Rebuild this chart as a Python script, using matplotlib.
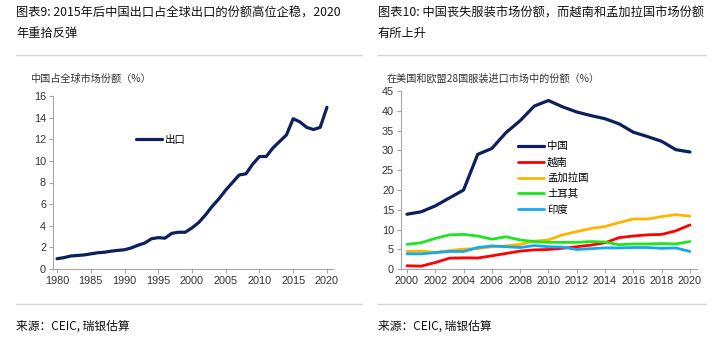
import matplotlib
matplotlib.use("Agg")
import matplotlib.pyplot as plt
from matplotlib.lines import Line2D

plt.rcParams['font.family'] = ['Noto Sans CJK SC', 'DejaVu Sans']

# share of world exports, %
years_exp = list(range(1980, 2021))
export_share = [0.95, 1.05, 1.2, 1.25, 1.3, 1.4, 1.5, 1.55, 1.65, 1.72,
                1.78, 1.95, 2.2, 2.4, 2.8, 2.9, 2.85, 3.3, 3.4, 3.4,
                3.8, 4.3, 5.0, 5.8, 6.5, 7.3, 8.0, 8.7, 8.8, 9.7,
                10.4, 10.4, 11.2, 11.8, 12.4, 13.9, 13.6, 13.1, 12.9, 13.1,
                14.95]

# share of US + EU28 apparel imports, %
years_app = list(range(2000, 2021))
china = [13.9, 14.5, 16.0, 18.0, 20.0, 29.0, 30.5, 34.5, 37.5, 41.2,
         42.6, 41.0, 39.7, 38.8, 38.0, 36.7, 34.6, 33.5, 32.3, 30.2, 29.6]
vietnam = [0.9, 0.8, 1.7, 2.8, 2.9, 2.85, 3.4, 4.0, 4.6, 4.9,
           5.0, 5.3, 5.7, 6.1, 6.7, 8.0, 8.4, 8.7, 8.8, 9.7, 11.2]
bangladesh = [4.5, 4.6, 4.3, 4.7, 5.1, 5.2, 5.7, 5.9, 6.3, 7.1,
              7.4, 8.7, 9.5, 10.3, 10.8, 11.8, 12.7, 12.7, 13.3, 13.8, 13.4]
turkey = [6.3, 6.7, 7.8, 8.7, 8.8, 8.4, 7.6, 8.2, 7.4, 7.0,
          6.8, 6.8, 6.8, 7.0, 6.9, 6.2, 6.4, 6.4, 6.5, 6.4, 7.0]
india = [3.9, 3.9, 4.2, 4.5, 4.5, 5.5, 5.9, 5.7, 5.5, 6.0,
         5.7, 5.6, 5.0, 5.2, 5.4, 5.4, 5.5, 5.5, 5.3, 5.4, 4.5]

series = [("中国", china, "#0c1f5e", 2.3),
          ("越南", vietnam, "#ff0000", 2.0),
          ("孟加拉国", bangladesh, "#ffb400", 2.0),
          ("土耳其", turkey, "#1ee61e", 2.0),
          ("印度", india, "#14a8ee", 2.0)]

W, H = 724, 338
fig = plt.figure(figsize=(W / 100, H / 100), dpi=100)
fig.patch.set_facecolor('white')


def fx(px):
    return px / W


def fy(py):
    return 1 - py / H


tick_font = ['Liberation Sans', 'DejaVu Sans']
grey = '#333333'


def style_axes(ax):
    for side in ['top', 'right']:
        ax.spines[side].set_visible(False)
    for side in ['left', 'bottom']:
        ax.spines[side].set_color('#a6a6a6')
        ax.spines[side].set_linewidth(0.8)
    ax.tick_params(axis='both', direction='out', length=3, width=0.8,
                   color='#a6a6a6', labelsize=7.8, labelcolor=grey, pad=2)
    for lab in ax.get_xticklabels() + ax.get_yticklabels():
        lab.set_family(tick_font)


# titles and separators
title_kw = dict(fontsize=8.8, va='center', ha='left', color='#111111')
fig.text(fx(16), fy(13), "图表9: 2015年后中国出口占全球出口的份额高位企稳，2020", **title_kw)
fig.text(fx(16), fy(33), "年重拾反弹", **title_kw)
fig.text(fx(378), fy(13), "图表10: 中国丧失服装市场份额，而越南和孟加拉国市场份额", **title_kw)
fig.text(fx(378), fy(33), "有所上升", **title_kw)

for x0, x1 in [(16, 362), (378, 706)]:
    for y in (55, 304):
        fig.add_artist(Line2D([fx(x0), fx(x1)], [fy(y), fy(y)], color='#d4d4d4', lw=1))
    fig.text(fx(x0), fy(326), "来源：CEIC, 瑞银估算", fontsize=8.5, va='center',
             ha='left', color='#111111')

fig.text(fx(30), fy(79), "中国占全球市场份额（%）", fontsize=7.3, va='center', color=grey)
fig.text(fx(387), fy(79), "在美国和欧盟28国服装进口市场中的份额（%）", fontsize=7.3,
         va='center', color=grey)

# left chart
ax1 = fig.add_axes([fx(53), fy(269), fx(333) - fx(53), fy(96) - fy(269)])
ax1.plot(years_exp, export_share, color='#0c1f5e', lw=2.3, label='出口',
         solid_capstyle='round', solid_joinstyle='round')
ax1.set_xlim(1979.4, 2020.9)
ax1.set_ylim(0, 16)
ax1.set_xticks(range(1980, 2021, 5))
ax1.set_yticks(range(0, 17, 2))
style_axes(ax1)
ax1.legend(loc='center left', bbox_to_anchor=(0.296, 0.746), frameon=False,
           fontsize=7.5, borderpad=0, borderaxespad=0, handlelength=2.5,
           handletextpad=0.3)

# right chart
ax2 = fig.add_axes([fx(401), fy(269.3), fx(697) - fx(401), fy(91) - fy(269.3)])
for name, vals, col, lw in series:
    ax2.plot(years_app, vals, color=col, lw=lw, label=name,
             solid_capstyle='round', solid_joinstyle='round')
ax2.set_xlim(1999.58, 2020.5)
ax2.set_ylim(0, 45)
ax2.set_xticks(range(2000, 2021, 2))
ax2.set_yticks(range(0, 46, 5))
style_axes(ax2)
ax2.legend(loc='center left', bbox_to_anchor=(0.395, 0.512), frameon=False,
           fontsize=7.5, borderpad=0, borderaxespad=0, handlelength=2.5,
           handletextpad=0.3, labelspacing=0.55)

fig.savefig('out.png', dpi=100)
